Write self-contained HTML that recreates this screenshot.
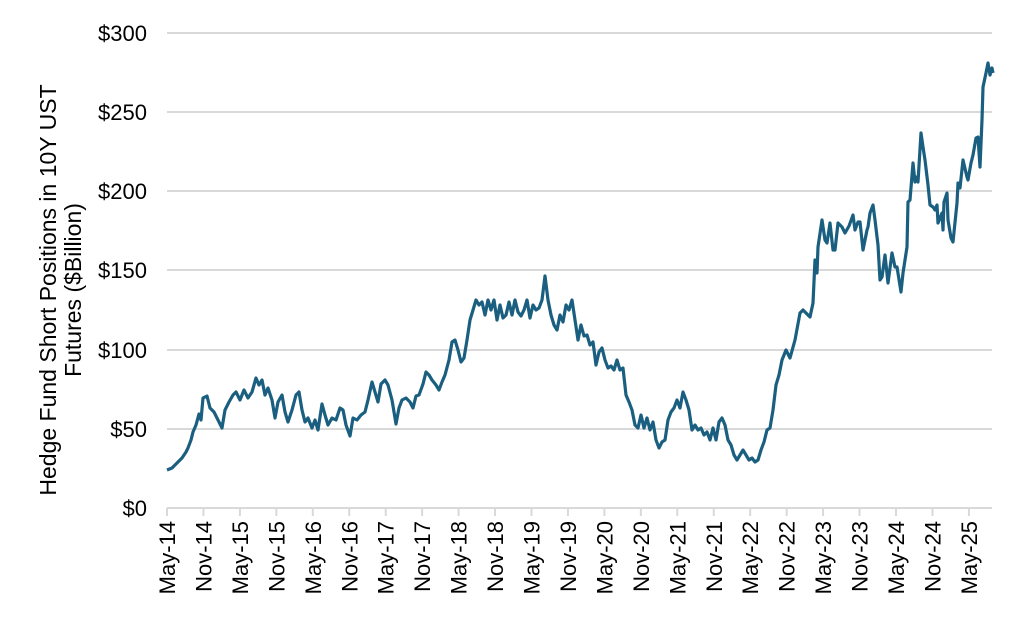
<!DOCTYPE html>
<html><head><meta charset="utf-8"><style>
body{margin:0;background:#fff;}
svg text{font-family:"Liberation Sans",Arial,sans-serif;fill:#000;}
</style></head><body>
<svg width="1024" height="627" viewBox="0 0 1024 627" xmlns="http://www.w3.org/2000/svg">
<g stroke="#d9d9d9" stroke-width="2">
<line x1="167" y1="33" x2="992" y2="33"/>
<line x1="167" y1="112" x2="992" y2="112"/>
<line x1="167" y1="191" x2="992" y2="191"/>
<line x1="167" y1="270" x2="992" y2="270"/>
<line x1="167" y1="350" x2="992" y2="350"/>
<line x1="167" y1="429" x2="992" y2="429"/>
<line x1="167" y1="508" x2="992" y2="508"/>
</g>
<g stroke="#d9d9d9" stroke-width="2" id="ticks"></g>
<g font-size="22" text-anchor="end">
<text x="147" y="41">$300</text>
<text x="147" y="120">$250</text>
<text x="147" y="199">$200</text>
<text x="147" y="278">$150</text>
<text x="147" y="358">$100</text>
<text x="147" y="437">$50</text>
<text x="147" y="516">$0</text>
</g>
<g font-size="23" text-anchor="middle" transform="translate(0,290) rotate(-90)">
<text x="0" y="56">Hedge Fund Short Positions in 10Y UST</text>
<text x="0" y="81">Futures ($Billion)</text>
</g>
<g id="xl" font-size="22" text-anchor="end"></g>
<polyline fill="none" stroke="#1a5f80" stroke-width="3.2" stroke-linejoin="round" points="167,470 172,468 175,465 178,462 182,458 186,452 188,448 191,440 193,432 196,425 199,414 201,420 203,398 207,396 210,408 214,412 218,420 222,428 225,410 229,402 233,395 236,392 240,400 244,390 248,398 252,392 256,378 259,385 262,380 265,395 268,388 272,400 275,418 278,402 282,395 285,412 288,422 292,410 296,395 299,392 302,410 305,422 308,418 312,428 315,420 318,430 322,404 325,415 328,425 332,418 336,420 340,408 343,410 346,425 350,436 353,418 357,420 361,415 365,412 368,400 372,382 375,392 378,402 381,384 385,380 388,385 392,400 396,424 399,408 402,400 406,398 410,402 413,408 416,396 419,395 423,384 426,372 429,375 432,380 436,385 439,390 442,382 445,375 449,360 452,342 455,340 458,350 461,362 464,358 467,340 470,320 473,310 476,300 479,305 482,302 485,315 488,300 491,310 494,300 497,320 500,305 503,318 506,315 509,302 512,315 515,300 518,312 521,316 524,310 527,300 530,318 533,305 536,310 539,308 542,300 545,276 548,300 551,315 554,325 557,330 560,315 563,322 566,305 569,310 572,300 575,320 578,340 581,325 584,336 587,335 590,345 593,342 596,365 599,352 602,348 605,360 608,368 611,366 614,370 617,360 620,370 623,368 626,395 629,402 632,410 635,425 638,428 641,415 644,428 647,418 650,430 653,422 656,440 659,448 662,442 665,440 668,420 671,412 674,408 677,400 680,408 683,392 686,400 689,410 692,430 695,425 698,430 701,428 704,435 707,432 710,440 713,428 716,440 719,422 722,418 725,425 728,440 731,445 734,455 737,460 740,455 743,450 746,455 749,460 752,458 755,462 758,460 761,450 764,442 767,430 770,428 773,410 776,385 779,375 782,360 786,350 790,358 795,340 800,313 803,310 806,313 810,317 813,303 815,260 817,273 818,247 822,220 825,240 827,243 830,223 833,250 835,250 838,223 842,227 845,233 849,226 853,215 855,230 858,222 860,222 863,250 867,230 868,227 870,213 873,205 875,220 878,245 880,280 882,277 885,255 888,283 892,253 895,267 897,267 901,292 903,273 907,247 908,202 910,200 913,163 915,182 917,177 918,182 921,133 923,147 925,160 928,185 930,205 933,207 935,210 937,205 938,223 942,213 943,230 944,202 947,193 948,220 951,238 953,242 957,203 958,183 960,188 963,160 967,177 968,180 971,163 973,155 976,138 978,137 980,167 982,120 983,87 986,73 988,63 990,75 992,68 993,73"/>
</svg>
<script>
const labels=["May-14","Nov-14","May-15","Nov-15","May-16","Nov-16","May-17","Nov-17","May-18","Nov-18","May-19","Nov-19","May-20","Nov-20","May-21","Nov-21","May-22","Nov-22","May-23","Nov-23","May-24","Nov-24","May-25"];
const ns="http://www.w3.org/2000/svg";
const xl=document.getElementById("xl"),tk=document.getElementById("ticks");
labels.forEach((l,i)=>{const x=167+i*36.45;
const ln=document.createElementNS(ns,"line");ln.setAttribute("x1",x);ln.setAttribute("x2",x);ln.setAttribute("y1",508);ln.setAttribute("y2",516);tk.appendChild(ln);
const t=document.createElementNS(ns,"text");t.setAttribute("transform",`translate(${x+8},521) rotate(-90)`);t.textContent=l;xl.appendChild(t);});
</script>
</body></html>
